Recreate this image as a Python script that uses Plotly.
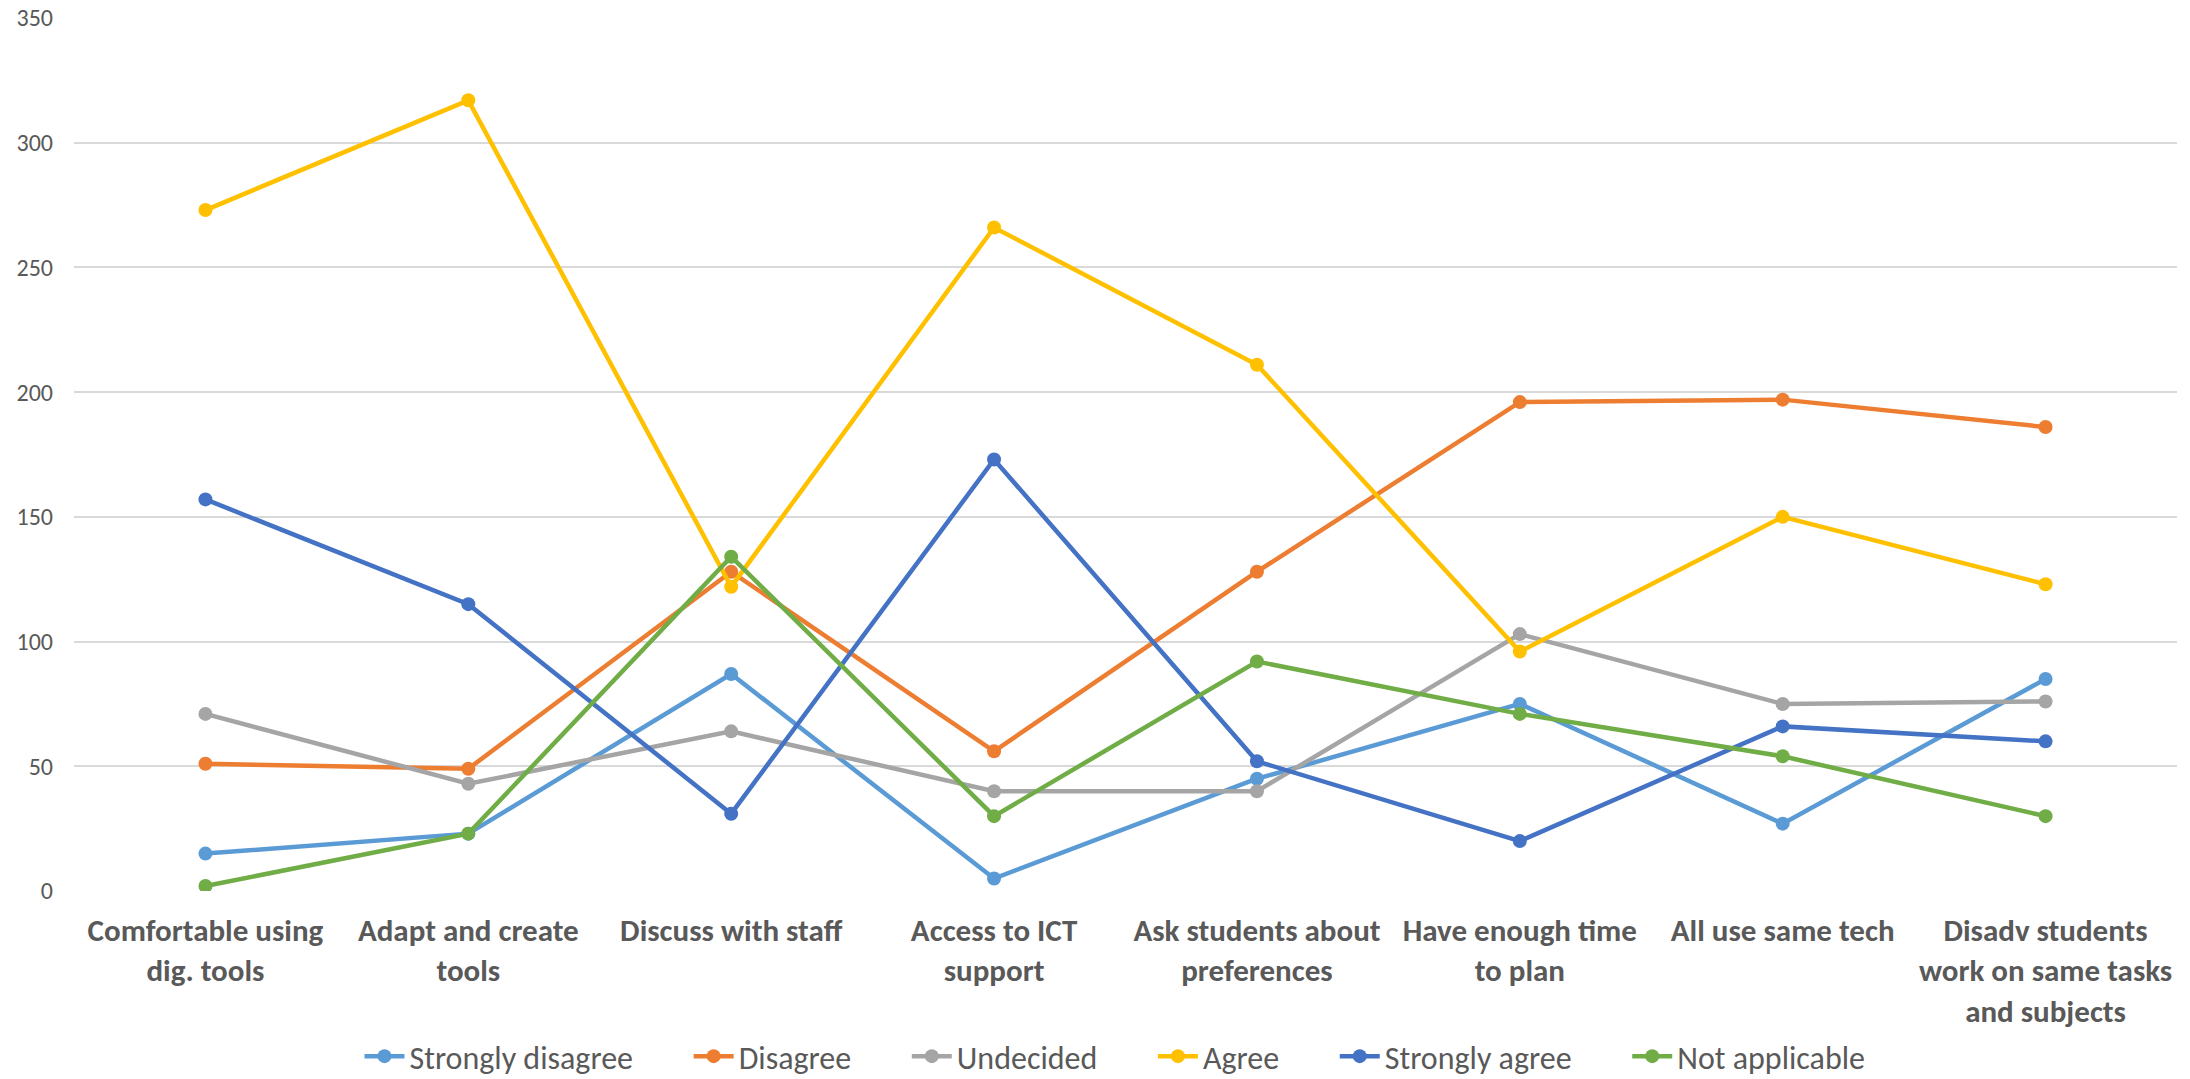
import plotly.graph_objects as go

# Survey statements (x categories)
categories = [
    "Comfortable using<br>dig. tools",
    "Adapt and create<br>tools",
    "Discuss with staff",
    "Access to ICT<br>support",
    "Ask students about<br>preferences",
    "Have enough time<br>to plan",
    "All use same tech",
    "Disadv students<br>work on same tasks<br>and subjects",
]

# Response counts per answer option
strongly_disagree = [15, 23, 87, 5, 45, 75, 27, 85]
disagree = [51, 49, 128, 56, 128, 196, 197, 186]
undecided = [71, 43, 64, 40, 40, 103, 75, 76]
agree = [273, 317, 122, 266, 211, 96, 150, 123]
strongly_agree = [157, 115, 31, 173, 52, 20, 66, 60]
not_applicable = [2, 23, 134, 30, 92, 71, 54, 30]

series_names = ["Strongly disagree", "Disagree", "Undecided", "Agree",
                "Strongly agree", "Not applicable"]
series_values = [strongly_disagree, disagree, undecided, agree,
                 strongly_agree, not_applicable]
series_colors = ["#5B9BD5", "#ED7D31", "#A5A5A5", "#FFC000", "#4472C4", "#70AD47"]

y_ticks = [0, 50, 100, 150, 200, 250, 300, 350]

FONT = "Carlito, Calibri, Lato, sans-serif"
TEXT_COLOR = "#595959"
NBSP = "\u00a0"

fig = go.Figure()
for i, (name, vals, color) in enumerate(zip(series_names, series_values, series_colors)):
    # pad legend entries so the items are spread out along the row
    pad = NBSP * 7 if i < len(series_names) - 1 else ""
    fig.add_trace(go.Scatter(
        x=categories, y=vals, name=name + pad, mode="lines+markers",
        line=dict(color=color, width=4.5),
        marker=dict(color=color, size=14),
    ))

fig.update_layout(
    width=2190, height=1079,
    margin=dict(l=74, r=13, t=18, b=188, autoexpand=False),
    paper_bgcolor="white", plot_bgcolor="white",
    font=dict(family=FONT, color=TEXT_COLOR, size=24),
    showlegend=True,
    legend=dict(
        orientation="h", x=0.495, xanchor="center",
        yref="container", y=0.021, yanchor="middle",
        font=dict(family=FONT, size=32, color=TEXT_COLOR),
        itemwidth=40, tracegroupgap=0,
    ),
    xaxis=dict(
        type="category", range=[-0.5, 7.5], automargin=False,
        showgrid=False, showline=False, zeroline=False, ticks="",
        tickfont=dict(family=FONT, size=31, color=TEXT_COLOR, weight="bold"),
        ticklabelstandoff=18,
    ),
    yaxis=dict(
        range=[0, 350], tickvals=y_ticks, automargin=False,
        showgrid=True, gridcolor="#D9D9D9", gridwidth=1.5,
        zeroline=False, showline=False, ticks="",
        tickfont=dict(family=FONT, size=24, color=TEXT_COLOR),
        ticklabelstandoff=20,
    ),
)

fig.write_html("out.html")
